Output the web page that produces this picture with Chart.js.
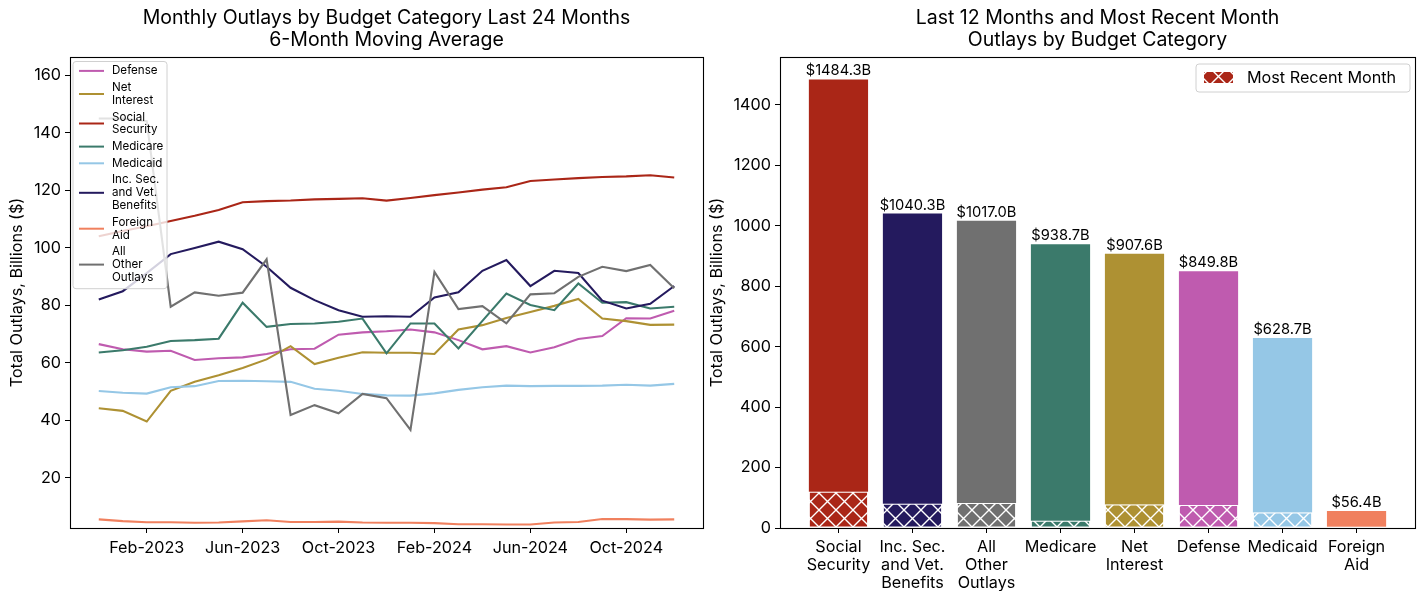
<!DOCTYPE html>
<html>
<head>
<meta charset="utf-8">
<title>Outlays by Budget Category</title>
<script src="https://cdn.jsdelivr.net/npm/chart.js@4.4.0/dist/chart.umd.min.js"></script>
<style>
    body { margin: 0; background: #fff; }
    #wrap { position: relative; width: 1420px; height: 591px; }
    #lineChart { position: absolute; left: 0; top: 0; }
    #barChart { position: absolute; left: 700px; top: 0; }
</style>
</head>
<body>
<div id="wrap">
    <canvas id="lineChart" width="710" height="591"></canvas>
    <canvas id="barChart" width="720" height="591"></canvas>
</div>
<script>
// Months shown on the left chart (6-month moving average)
const months = ['Dec-2022', 'Jan-2023', 'Feb-2023', 'Mar-2023', 'Apr-2023', 'May-2023', 'Jun-2023',
    'Jul-2023', 'Aug-2023', 'Sep-2023', 'Oct-2023', 'Nov-2023', 'Dec-2023', 'Jan-2024', 'Feb-2024',
    'Mar-2024', 'Apr-2024', 'May-2024', 'Jun-2024', 'Jul-2024', 'Aug-2024', 'Sep-2024', 'Oct-2024',
    'Nov-2024', 'Dec-2024'];
const monthTicks = ['Feb-2023', 'Jun-2023', 'Oct-2023', 'Feb-2024', 'Jun-2024', 'Oct-2024'];
const lineYTicks = [20, 40, 60, 80, 100, 120, 140, 160];
const barYTicks = [0, 200, 400, 600, 800, 1000, 1200, 1400];

// Series values, billions of dollars
const defense = [66.5, 64.7, 63.9, 64.2, 61.0, 61.6, 61.9, 63.1, 64.7, 64.9, 69.8, 70.6, 71.0,
    71.6, 70.6, 67.9, 64.7, 65.8, 63.6, 65.4, 68.3, 69.3, 75.5, 75.4, 78.1];
const netInterest = [44.2, 43.3, 39.6, 50.3, 53.4, 55.7, 58.2, 61.2, 65.8, 59.6, 61.8, 63.7, 63.5,
    63.5, 63.1, 71.6, 73.1, 75.6, 77.7, 79.8, 82.2, 75.4, 74.5, 73.2, 73.3];
const socialSecurity = [104.0, 105.8, 107.5, 109.3, 111.1, 113.1, 115.8, 116.2, 116.4, 116.8, 117.0,
    117.2, 116.4, 117.3, 118.3, 119.2, 120.2, 121.0, 123.2, 123.7, 124.2, 124.6, 124.8, 125.2, 124.4];
const medicare = [63.6, 64.4, 65.6, 67.6, 67.9, 68.4, 80.9, 72.5, 73.5, 73.7, 74.3, 75.4, 63.3,
    73.7, 73.7, 65.0, 74.6, 84.1, 80.1, 78.3, 87.6, 80.9, 81.1, 78.9, 79.5];
const medicaid = [50.2, 49.6, 49.3, 51.5, 51.9, 53.7, 53.8, 53.6, 53.4, 51.0, 50.3, 49.2, 48.7,
    48.6, 49.4, 50.6, 51.5, 52.1, 51.9, 52.0, 52.0, 52.1, 52.4, 52.1, 52.7];
const incomeSecurity = [82.0, 84.9, 91.2, 97.8, 99.9, 102.1, 99.5, 93.4, 86.1, 81.8, 78.3, 76.0,
    76.2, 76.0, 82.7, 84.5, 92.0, 95.7, 86.7, 92.0, 91.2, 81.6, 78.9, 80.5, 86.7];
const foreignAid = [5.6, 5.0, 4.6, 4.6, 4.4, 4.5, 4.9, 5.3, 4.7, 4.7, 4.8, 4.5, 4.4, 4.4, 4.3,
    3.9, 3.9, 3.8, 3.8, 4.5, 4.7, 5.7, 5.7, 5.5, 5.6];
const allOther = [144.9, 144.9, 144.0, 79.5, 84.5, 83.3, 84.4, 96.0, 41.9, 45.3, 42.5, 49.2, 47.7,
    36.7, 91.6, 78.7, 79.7, 73.7, 83.8, 84.2, 89.9, 93.4, 91.9, 94.0, 85.9];

// Right chart: last 12 months totals and most recent month
const categories = [['Social', 'Security'], ['Inc. Sec.', 'and Vet.', 'Benefits'], ['All', 'Other', 'Outlays'],
    ['Medicare'], ['Net', 'Interest'], ['Defense'], ['Medicaid'], ['Foreign', 'Aid']];
const last12Totals = [1484.3, 1040.3, 1017.0, 938.7, 907.6, 849.8, 628.7, 56.4];
const recentMonth = [120, 80, 83, 24, 78, 76, 51, 4.5];

const colors = {
    defense: '#bf5baf',
    netInterest: '#ae9133',
    socialSecurity: '#aa2617',
    medicare: '#3b7a6b',
    medicaid: '#95c7e6',
    incomeSecurity: '#241a5e',
    foreignAid: '#f0805e',
    allOther: '#707070'
};
const barColors = [colors.socialSecurity, colors.incomeSecurity, colors.allOther, colors.medicare,
    colors.netInterest, colors.defense, colors.medicaid, colors.foreignAid];

const FONT = 'Inter, "DejaVu Sans", sans-serif';
const BASE = 16.2;

// Line series, in legend order
const lineSeries = [
    { label: ['Defense'], data: defense, color: colors.defense },
    { label: ['Net', 'Interest'], data: netInterest, color: colors.netInterest },
    { label: ['Social', 'Security'], data: socialSecurity, color: colors.socialSecurity },
    { label: ['Medicare'], data: medicare, color: colors.medicare },
    { label: ['Medicaid'], data: medicaid, color: colors.medicaid },
    { label: ['Inc. Sec.', 'and Vet.', 'Benefits'], data: incomeSecurity, color: colors.incomeSecurity },
    { label: ['Foreign', 'Aid'], data: foreignAid, color: colors.foreignAid },
    { label: ['All', 'Other', 'Outlays'], data: allOther, color: colors.allOther }
];

// Hatch pattern 'x' over the bar color
function makeHatch(color) {
    const c = document.createElement('canvas');
    c.width = 17;
    c.height = 17;
    const g = c.getContext('2d');
    g.fillStyle = color;
    g.fillRect(0, 0, 17, 17);
    g.strokeStyle = '#fff';
    g.lineWidth = 1.4;
    g.beginPath();
    g.moveTo(-1, -1); g.lineTo(18, 18);
    g.moveTo(18, -1); g.lineTo(-1, 18);
    g.stroke();
    return g.createPattern(c, 'repeat');
}

function roundBox(ctx, x, y, w, h, r) {
    ctx.beginPath();
    ctx.moveTo(x + r, y);
    ctx.arcTo(x + w, y, x + w, y + h, r);
    ctx.arcTo(x + w, y + h, x, y + h, r);
    ctx.arcTo(x, y + h, x, y, r);
    ctx.arcTo(x, y, x + w, y, r);
    ctx.closePath();
}

// Frame, titles and y axis title (matplotlib look)
const frameAndText = {
    id: 'frameAndText',
    afterDraw(chart, args, opts) {
        const ctx = chart.ctx;
        const a = chart.chartArea;
        ctx.save();
        ctx.strokeStyle = '#000';
        ctx.lineWidth = 1.1;
        ctx.strokeRect(Math.round(a.left) + 0.5, Math.round(a.top) + 0.5,
            Math.round(a.right - a.left), Math.round(a.bottom - a.top));
        ctx.fillStyle = '#000';
        ctx.font = '19.5px ' + FONT;
        ctx.textAlign = 'center';
        ctx.textBaseline = 'middle';
        const cx = (a.left + a.right) / 2;
        opts.title.forEach((t, i) => ctx.fillText(t, cx, 18 + i * 22.5));
        ctx.translate(opts.yTitleX, (a.top + a.bottom) / 2);
        ctx.rotate(-Math.PI / 2);
        ctx.font = BASE + 'px ' + FONT;
        ctx.fillText(opts.yTitle, 0, 0);
        ctx.restore();
    }
};

// Legend inside the line chart, top left
const lineLegend = {
    id: 'lineLegend',
    afterDraw(chart) {
        const ctx = chart.ctx;
        const a = chart.chartArea;
        const lh = 12.8;
        const gap = 3.9;
        const x0 = a.left + 3;
        const y0 = a.top + 4.5;
        let h = 4;
        lineSeries.forEach(s => { h += s.label.length * lh + gap; });
        ctx.save();
        roundBox(ctx, x0, y0, 94, h, 3);
        ctx.fillStyle = 'rgba(255,255,255,0.8)';
        ctx.fill();
        ctx.strokeStyle = '#d0d0d0';
        ctx.lineWidth = 1;
        ctx.stroke();
        ctx.font = '11.6px ' + FONT;
        ctx.textAlign = 'left';
        ctx.textBaseline = 'middle';
        let y = y0 + 3;
        lineSeries.forEach(s => {
            const eh = s.label.length * lh;
            const cy = y + eh / 2;
            ctx.strokeStyle = s.color;
            ctx.lineWidth = 2;
            ctx.beginPath();
            ctx.moveTo(x0 + 6, cy);
            ctx.lineTo(x0 + 31, cy);
            ctx.stroke();
            ctx.fillStyle = '#000';
            s.label.forEach((t, k) => ctx.fillText(t, x0 + 39, y + lh / 2 + k * lh));
            y += eh + gap;
        });
        ctx.restore();
    }
};

// Total labels above the bars and legend of the bar chart
const barExtras = {
    id: 'barExtras',
    afterDatasetsDraw(chart) {
        const ctx = chart.ctx;
        const meta = chart.getDatasetMeta(1);
        ctx.save();
        ctx.fillStyle = '#000';
        ctx.font = '14.7px ' + FONT;
        ctx.textAlign = 'center';
        ctx.textBaseline = 'bottom';
        meta.data.forEach((bar, i) => {
            ctx.fillText('$' + last12Totals[i].toFixed(1) + 'B', bar.x, bar.y - 1);
        });
        ctx.restore();
    },
    afterDraw(chart) {
        const ctx = chart.ctx;
        const a = chart.chartArea;
        const w = 214;
        const x0 = a.right - 5 - w;
        const y0 = a.top + 7;
        ctx.save();
        roundBox(ctx, x0, y0, w, 28, 3);
        ctx.fillStyle = 'rgba(255,255,255,0.8)';
        ctx.fill();
        ctx.strokeStyle = '#d0d0d0';
        ctx.lineWidth = 1;
        ctx.stroke();
        ctx.fillStyle = makeHatch(colors.socialSecurity);
        ctx.fillRect(x0 + 8, y0 + 8, 29, 11);
        ctx.fillStyle = '#000';
        ctx.font = BASE + 'px ' + FONT;
        ctx.textAlign = 'left';
        ctx.textBaseline = 'middle';
        ctx.fillText('Most Recent Month', x0 + 51, y0 + 14.5);
        ctx.restore();
    }
};

const tickFont = { family: FONT, size: BASE };

// Line chart
new Chart(document.getElementById('lineChart'), {
    type: 'line',
    data: {
        datasets: lineSeries.map((s, i) => ({
            label: s.label.join(' '),
            data: s.data.map((v, k) => ({ x: k, y: v })),
            borderColor: s.color,
            borderWidth: 2.1,
            pointRadius: 0,
            tension: 0,
            order: lineSeries.length - i
        }))
    },
    options: {
        responsive: false,
        animation: false,
        layout: { padding: { top: 57, right: 7, left: 0, bottom: 0 } },
        plugins: {
            legend: { display: false },
            tooltip: { enabled: false },
            frameAndText: {
                title: ['Monthly Outlays by Budget Category Last 24 Months', '6-Month Moving Average'],
                yTitle: 'Total Outlays, Billions ($)',
                yTitleX: 17
            }
        },
        scales: {
            x: {
                type: 'linear',
                min: -1.2,
                max: months.length - 1 + 1.2,
                bounds: 'data',
                afterBuildTicks: scale => {
                    scale.ticks = monthTicks.map(m => ({ value: months.indexOf(m) }));
                },
                afterFit: scale => { scale.height = 63; },
                ticks: {
                    autoSkip: false,
                    maxRotation: 0,
                    padding: 5,
                    color: '#000',
                    font: tickFont,
                    callback: v => months[v]
                },
                grid: { drawOnChartArea: false, drawTicks: true, tickLength: 5, color: '#000' },
                border: { display: false }
            },
            y: {
                min: 2.6,
                max: 166.3,
                bounds: 'data',
                afterBuildTicks: scale => {
                    scale.ticks = lineYTicks.map(v => ({ value: v }));
                },
                afterFit: scale => { scale.width = 70; },
                ticks: { padding: 4, color: '#000', font: tickFont, callback: v => String(v) },
                grid: { drawOnChartArea: false, drawTicks: true, tickLength: 5, color: '#000' },
                border: { display: false }
            }
        }
    },
    plugins: [frameAndText, lineLegend]
});

// Bar chart: most recent month (hatched) plus the rest of the 12 months
new Chart(document.getElementById('barChart'), {
    type: 'bar',
    data: {
        datasets: [
            {
                label: 'Most Recent Month',
                data: recentMonth.map((v, i) => ({ x: i, y: v })),
                backgroundColor: barColors.map(makeHatch),
                borderColor: '#fff',
                borderWidth: 1,
                borderSkipped: false,
                barPercentage: 0.8,
                categoryPercentage: 1
            },
            {
                label: 'Last 12 Months',
                data: last12Totals.map((v, i) => ({ x: i, y: v - recentMonth[i] })),
                backgroundColor: barColors,
                borderWidth: 0,
                barPercentage: 0.8,
                categoryPercentage: 1
            }
        ]
    },
    options: {
        responsive: false,
        animation: false,
        layout: { padding: { top: 57, right: 5, left: 0, bottom: 0 } },
        plugins: {
            legend: { display: false },
            tooltip: { enabled: false },
            frameAndText: {
                title: ['Last 12 Months and Most Recent Month', 'Outlays by Budget Category'],
                yTitle: 'Total Outlays, Billions ($)',
                yTitleX: 17
            }
        },
        scales: {
            x: {
                type: 'linear',
                stacked: true,
                min: -0.79,
                max: categories.length - 1 + 0.79,
                bounds: 'data',
                offset: false,
                afterBuildTicks: scale => {
                    scale.ticks = categories.map((c, i) => ({ value: i }));
                },
                afterFit: scale => { scale.height = 63; },
                ticks: {
                    autoSkip: false,
                    maxRotation: 0,
                    padding: 5,
                    color: '#000',
                    font: { family: FONT, size: BASE, lineHeight: 1.12 },
                    callback: v => categories[v]
                },
                grid: { drawOnChartArea: false, drawTicks: true, tickLength: 5, color: '#000', offset: false },
                border: { display: false }
            },
            y: {
                stacked: true,
                min: 0,
                max: 1558.5,
                bounds: 'data',
                afterBuildTicks: scale => {
                    scale.ticks = barYTicks.map(v => ({ value: v }));
                },
                afterFit: scale => { scale.width = 80; },
                ticks: { padding: 4, color: '#000', font: tickFont, callback: v => String(v) },
                grid: { drawOnChartArea: false, drawTicks: true, tickLength: 5, color: '#000' },
                border: { display: false }
            }
        }
    },
    plugins: [frameAndText, barExtras]
});
</script>
</body>
</html>
